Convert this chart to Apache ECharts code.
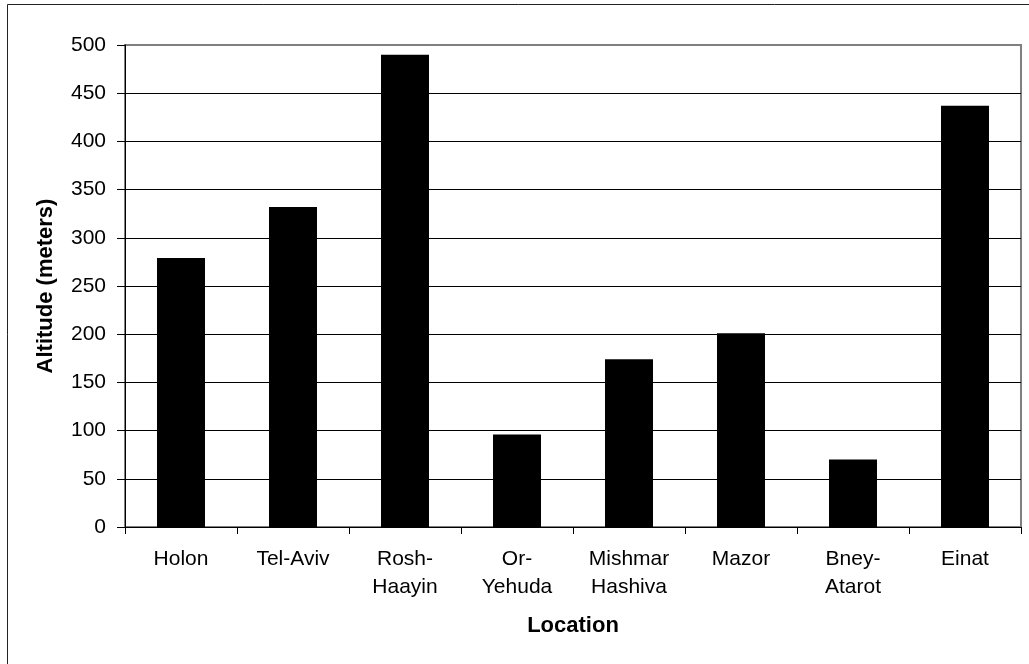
<!DOCTYPE html>
<html>
<head>
<meta charset="utf-8">
<script src="https://cdn.jsdelivr.net/npm/echarts@6/dist/echarts.min.js"></script>
<style>
  html, body { margin: 0; padding: 0; background: #fff; }
  #chart { width: 1029px; height: 664px; }
</style>
</head>
<body>
<div id="chart"></div>
<script>
// values
var categories = ["Holon", "Tel-Aviv", "Rosh-\nHaayin", "Or-\nYehuda", "Mishmar\nHashiva", "Mazor", "Bney-\nAtarot", "Einat"];
var altitudes = [279, 332, 490, 96, 174, 201, 70, 437];
var yTicks = [0, 50, 100, 150, 200, 250, 300, 350, 400, 450, 500];

var font = "Liberation Sans, Arial, sans-serif";
var chart = echarts.init(document.getElementById("chart"));

// last split line (top of plot) is grey like the frame
var splitColors = yTicks.map(function (v, i) { return i === yTicks.length - 1 ? "#808080" : "#000"; });

var option = {
  animation: false,
  backgroundColor: "#fff",
  graphic: [{
    type: "rect",
    shape: { x: 7.5, y: 4.5, width: 1040, height: 680 },
    style: { fill: "none", stroke: "#222", lineWidth: 1 },
    silent: true
  }],
  grid: {
    left: 125, right: 8, top: 45, bottom: 137,
    show: true,
    borderColor: "#808080",
    borderWidth: 2
  },
  xAxis: {
    type: "category",
    data: categories,
    name: "Location",
    nameLocation: "middle",
    nameGap: 88,
    nameTextStyle: { fontFamily: font, fontSize: 22, fontWeight: "bold", color: "#000" },
    axisLine: { lineStyle: { color: "#000", width: 1 } },
    axisTick: { show: true, alignWithLabel: false, length: 7, lineStyle: { color: "#000" } },
    axisLabel: { interval: 0, margin: 18, fontFamily: font, fontSize: 21, color: "#000", lineHeight: 28 }
  },
  yAxis: {
    type: "value",
    min: 0, max: 500, interval: 50,
    name: "Altitude (meters)",
    nameLocation: "middle",
    nameGap: 68,
    nameTextStyle: { fontFamily: font, fontSize: 22, fontWeight: "bold", color: "#000" },
    axisLine: { show: true, lineStyle: { color: "#000", width: 1 } },
    axisTick: { show: true, length: 8, lineStyle: { color: "#000" } },
    axisLabel: { margin: 19, fontFamily: font, fontSize: 21, color: "#000" },
    splitLine: { show: true, lineStyle: { color: splitColors, width: 1 } }
  },
  series: [{
    type: "bar",
    data: altitudes,
    barWidth: 48,
    itemStyle: { color: "#000" }
  }]
};

chart.setOption(option);
</script>
</body>
</html>
